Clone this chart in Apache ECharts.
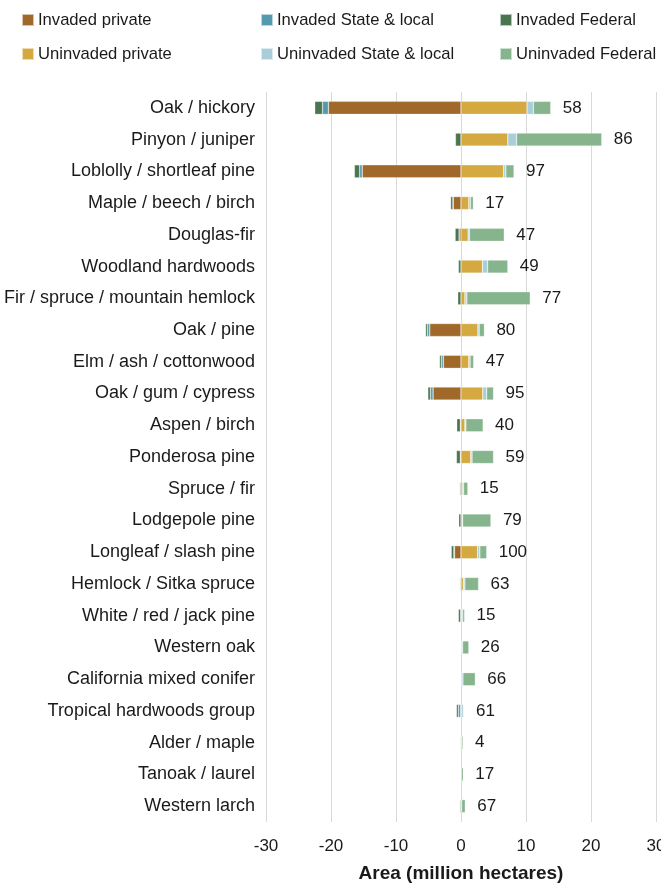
<!DOCTYPE html>
<html>
<head>
<meta charset="utf-8">
<script src="https://cdn.jsdelivr.net/npm/echarts@6/dist/echarts.min.js"></script>
<style>
  html, body { margin: 0; padding: 0; background: #fff; overflow: hidden; }
  #chart { width: 661px; height: 886px; }
</style>
</head>
<body>
<div id="chart"></div>
<script>
// Forest-type groups, top to bottom
const forestTypes = [
  'Oak / hickory', 'Pinyon / juniper', 'Loblolly / shortleaf pine', 'Maple / beech / birch',
  'Douglas-fir', 'Woodland hardwoods', 'Fir / spruce / mountain hemlock', 'Oak / pine',
  'Elm / ash / cottonwood', 'Oak / gum / cypress', 'Aspen / birch', 'Ponderosa pine',
  'Spruce / fir', 'Lodgepole pine', 'Longleaf / slash pine', 'Hemlock / Sitka spruce',
  'White / red / jack pine', 'Western oak', 'California mixed conifer', 'Tropical hardwoods group',
  'Alder / maple', 'Tanoak / laurel', 'Western larch'
];

// Invaded area (million ha), plotted to the left of zero
const invadedPrivate = [-20.4, 0, -15.2, -1.2, -0.3, 0, 0, -4.8, -2.7, -4.3, -0.1, -0.1,
  0, 0, -1.0, 0, 0, 0, 0, -0.05, 0, 0, 0];
const invadedState = [-0.9, 0, -0.4, -0.05, 0, 0, 0, -0.35, -0.3, -0.4, 0, 0,
  -0.05, 0, -0.1, -0.1, -0.05, 0, 0, -0.35, 0, 0, -0.05];
const invadedFederal = [-1.2, -0.85, -0.8, -0.35, -0.6, -0.4, -0.5, -0.3, -0.3, -0.4, -0.55, -0.6,
  -0.15, -0.35, -0.4, -0.1, -0.35, -0.05, -0.05, -0.3, -0.1, 0, -0.15];

// Uninvaded area (million ha), plotted to the right of zero
const uninvadedPrivate = [10.15, 7.2, 6.55, 1.2, 1.1, 3.3, 0.6, 2.6, 1.2, 3.35, 0.6, 1.5,
  0.25, 0.2, 2.55, 0.35, 0.05, 0.1, 0.05, 0.05, 0, 0, 0];
const uninvadedState = [1.0, 1.35, 0.35, 0.25, 0.2, 0.8, 0.3, 0.2, 0.2, 0.6, 0.15, 0.2,
  0.15, 0.05, 0.35, 0.25, 0.2, 0.15, 0.25, 0.3, 0.1, 0.05, 0.1];
const uninvadedFederal = [2.65, 13.1, 1.25, 0.45, 5.35, 3.1, 9.75, 0.8, 0.55, 1.05, 2.65, 3.3,
  0.65, 4.35, 1.05, 2.1, 0.3, 0.95, 1.9, 0.1, 0.2, 0.3, 0.55];

// Numbers printed beside each bar
const barLabels = [58, 86, 97, 17, 47, 49, 77, 80, 47, 95, 40, 59, 15, 79, 100, 63, 15, 26, 66, 61, 4, 17, 67];

const seriesNames = [
  'Invaded private', 'Invaded State & local', 'Invaded Federal',
  'Uninvaded private', 'Uninvaded State & local', 'Uninvaded Federal'
];
const seriesColors = ['#A0692A', '#5499AE', '#4A7550', '#D4A93F', '#A9CEDA', '#86B48C'];
const seriesData = [invadedPrivate, invadedState, invadedFederal,
  uninvadedPrivate, uninvadedState, uninvadedFederal];

const xTicks = { min: -30, max: 30, interval: 10 };

const font = 'Liberation Sans, Arial, sans-serif';
const textColor = '#1a1a1a';

const series = seriesNames.map((name, i) => {
  const s = {
    name: name,
    type: 'bar',
    stack: 'area',
    barWidth: 13,
    data: seriesData[i],
    itemStyle: { color: seriesColors[i], borderColor: 'rgba(255,255,255,0.6)', borderWidth: 0.5 },
    emphasis: { disabled: true },
    animation: false
  };
  if (i === seriesNames.length - 1) {
    s.label = {
      show: true,
      position: 'right',
      distance: 12,
      fontFamily: font,
      fontSize: 17,
      color: textColor,
      formatter: p => String(barLabels[p.dataIndex])
    };
  }
  return s;
});

const legendCommon = {
  orient: 'vertical',
  top: 11,
  padding: 0,
  itemWidth: 12,
  itemHeight: 12,
  itemGap: 16,
  icon: 'rect',
  textStyle: { fontFamily: font, fontSize: 16.6, lineHeight: 18, color: textColor, padding: [0, 0, 0, -1] },
  selectedMode: false
};

const chart = echarts.init(document.getElementById('chart'), null, { renderer: 'canvas', width: 661, height: 886 });
chart.setOption({
  backgroundColor: '#fff',
  animation: false,
  legend: [
    Object.assign({}, legendCommon, { left: 21, data: [seriesNames[0], seriesNames[3]] }),
    Object.assign({}, legendCommon, { left: 260, data: [seriesNames[1], seriesNames[4]] }),
    Object.assign({}, legendCommon, { left: 499, data: [seriesNames[2], seriesNames[5]] })
  ],
  grid: { left: 266, right: 5, top: 92, bottom: 64, containLabel: false, outerBoundsMode: 'none' },
  xAxis: {
    type: 'value',
    min: xTicks.min,
    max: xTicks.max,
    interval: xTicks.interval,
    axisLine: { show: false },
    axisTick: { show: false },
    splitLine: { show: true, lineStyle: { color: '#d9d9d9', width: 1 } },
    axisLabel: { fontFamily: font, fontSize: 17, color: textColor, margin: 16 },
    name: 'Area (million hectares)',
    nameLocation: 'middle',
    nameGap: 42,
    nameTextStyle: { fontFamily: font, fontSize: 19, fontWeight: 'bold', color: textColor }
  },
  yAxis: {
    type: 'category',
    data: forestTypes,
    inverse: true,
    axisLine: { show: false },
    axisTick: { show: false },
    axisLabel: { fontFamily: font, fontSize: 18, color: textColor, margin: 11 }
  },
  series: series
});
</script>
</body>
</html>
